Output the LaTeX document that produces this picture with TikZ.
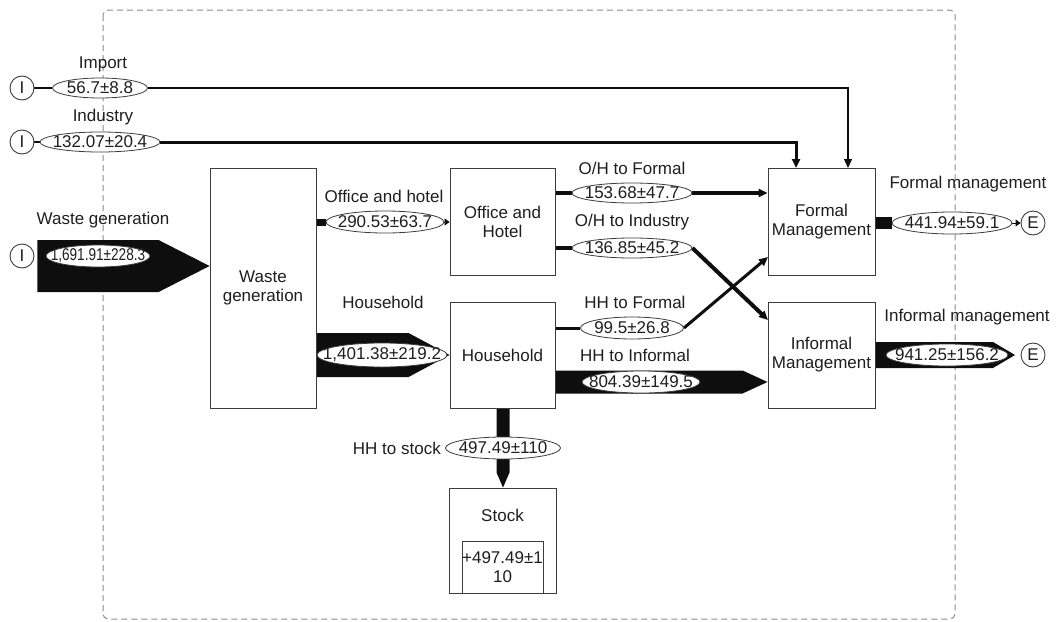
\documentclass[tikz,border=0pt]{standalone}
\usepackage{fontspec}
\setmainfont{Liberation Sans}
\usetikzlibrary{arrows.meta,shapes.geometric,calc,backgrounds}
\definecolor{ink}{HTML}{1E1E1E}
\definecolor{rule}{HTML}{3C3C3C}
\definecolor{frameclr}{HTML}{8A8A8A}
\definecolor{flowink}{HTML}{0E0E0E}
% value text that never widens its ellipse
\newcommand\numtxt[1]{\makebox[0pt]{#1}}
% fat flow to the right: start, tip, half thickness, head length
\newcommand\rflow[4]{\fill[flowink] ($#1+(0,-#3)$) -- ($#2+(-#4,-#3)$) -- #2 -- ($#2+(-#4,#3)$) -- ($#1+(0,#3)$) -- cycle;}
% fat flow downwards: start, tip, half thickness, head length
\newcommand\dflow[4]{\fill[flowink] ($#1+(-#3,0)$) -- ($#2+(-#3,-#4)$) -- #2 -- ($#2+(#3,-#4)$) -- ($#1+(#3,0)$) -- cycle;}
\begin{document}
\begin{tikzpicture}[x=1pt,y=-1pt,
  font=\fontsize{17}{19}\selectfont, text=ink,
  procbox/.style={draw=rule, line width=0.9pt, fill=white, inner sep=0pt, align=center},
  val/.style={ellipse, draw=rule, line width=0.8pt, fill=white, inner sep=0pt, minimum height=22pt},
  endpt/.style={circle, draw=rule, line width=0.9pt, fill=white, minimum size=24pt, inner sep=0pt},
  lab/.style={inner sep=0pt},
  link/.style={draw=flowink, line width=#1},
  headed/.style={-{Triangle[length=9pt,width=8pt]}},
  smallhead/.style={-{Triangle[length=5pt,width=7pt]}},
]
\useasboundingbox (0,0) rectangle (1057,621);

% sources and sinks
\node[endpt] (iImp) at (22,88) {I};
\node[endpt] (iInd) at (22,142) {I};
\node[endpt] (iWg) at (22,256) {I};
\node[endpt] (eFor) at (1033,223) {E};
\node[endpt] (eInf) at (1033,355) {E};

% processes
\node[procbox, minimum width=106pt, minimum height=240pt] (wg) at (263,288) {Waste\\generation};
\node[procbox, minimum width=105pt, minimum height=107pt] (oh) at (502.5,221.5) {Office and\\Hotel};
\node[procbox, minimum width=105pt, minimum height=106pt] (hh) at (502.5,355) {Household};
\node[procbox, minimum width=107pt, minimum height=107pt] (fm) at (821.5,221.5) {Formal\\Management};
\node[procbox, minimum width=107pt, minimum height=106pt] (im) at (821.5,355) {Informal\\Management};
\node[procbox, minimum width=107pt, minimum height=105pt] (st) at (502.5,540.5) {};
\node[lab] (stT) at (502.5,515) {Stock};
\node[procbox, minimum width=81pt, minimum height=52pt] (stIn) at (502.5,567) {+497.49±1\\10};

% flow values
\node[val, minimum width=95pt, minimum height=20pt] (vImp) at (100,88) {\numtxt{56.7±8.8}};
\node[val, minimum width=120pt, minimum height=20pt] (vInd) at (100,142) {\numtxt{132.07±20.4}};
\node[val, minimum width=104pt] (vWg) at (98,256) {\numtxt{\scalebox{0.8}[1]{1,691.91±228.3}}};
\node[val, minimum width=118pt] (vOH) at (385,222) {\numtxt{290.53±63.7}};
\node[val, minimum width=130pt, minimum height=24pt] (vHH) at (382,355) {\numtxt{1,401.38±219.2}};
\node[val, minimum width=120pt, minimum height=20pt] (vOF) at (632,193) {\numtxt{153.68±47.7}};
\node[val, minimum width=120pt, minimum height=20pt] (vOI) at (632,248) {\numtxt{136.85±45.2}};
\node[val, minimum width=103pt] (vHF) at (632,328) {\numtxt{99.5±26.8}};
\node[val, minimum width=118pt] (vHI) at (641,382) {\numtxt{804.39±149.5}};
\node[val, minimum width=115pt] (vHS) at (503,448) {\numtxt{497.49±110}};
\node[val, minimum width=120pt] (vFM) at (952,223) {\numtxt{441.94±59.1}};
\node[val, minimum width=122pt] (vIM) at (947,355) {\numtxt{941.25±156.2}};

% flow names
\node[lab] (lImp) at (103,64) {Import};
\node[lab] (lInd) at (103,117) {Industry};
\node[lab] (lWg) at (103,220) {Waste generation};
\node[lab] (lOH) at (384,196) {Office and hotel};
\node[lab] (lHH) at (383,302) {Household};
\node[lab] (lOF) at (632,168) {O/H to Formal};
\node[lab] (lOI) at (632,222) {O/H to Industry};
\node[lab] (lHF) at (635,302) {HH to Formal};
\node[lab] (lHI) at (635,355) {HH to Informal};
\node[lab, anchor=east] (lHS) at (441,448) {HH to stock};
\node[lab] (lFM) at (968,184) {Formal management};
\node[lab] (lIM) at (967,317) {Informal management};

% entry points on the management boxes
\coordinate (fmA) at (848,168);
\coordinate (fmB) at (796,168);
\coordinate (fmIn) at (768,257);
\coordinate (imIn) at (768,320);

\begin{pgfonlayer}{background}
  % system boundary
  \draw[frameclr, line width=1pt, dash pattern=on 6pt off 4pt, rounded corners=5pt] (103,10) rectangle (955,619);

  % imports straight to formal management
  \draw[link=1.2pt] (iImp) -- (vImp);
  \draw[link=1.2pt, headed] (vImp.east) -| (fmA);
  \draw[link=2pt] (iInd) -- (vInd);
  \draw[link=3pt, headed] (vInd.east) -| (fmB);

  % generation
  \coordinate (sWg) at ($(iWg.east)+(3,10)$);
  \coordinate (tWg) at ($(wg.west |- iWg)+(0,10)$);
  \rflow{(sWg)}{(tWg)}{26}{51}

  % office and hotel branch
  \draw[link=7pt] (wg.east |- vOH) -- (vOH);
  \draw[link=1pt, smallhead] (vOH.east) -- (oh.west |- vOH);

  % household branch
  \coordinate (sHH) at (wg.east |- vHH);
  \coordinate (tHH) at (hh.west |- vHH);
  \rflow{(sHH)}{(tHH)}{22}{41}

  % office and hotel outputs
  \draw[link=4pt] (oh.east |- vOF) -- (vOF);
  \draw[link=4pt, headed] (vOF.east) -- (fm.west |- vOF);
  \draw[link=4pt] (oh.east |- vOI) -- (vOI);
  \draw[link=4pt, headed] (vOI.east) -- (imIn);

  % household outputs
  \draw[link=3pt] (hh.east |- vHF) -- (vHF);
  \draw[link=3pt, headed] (vHF.east) -- (fmIn);
  \coordinate (sHI) at (hh.east |- vHI);
  \coordinate (tHI) at (im.west |- vHI);
  \rflow{(sHI)}{(tHI)}{11.5}{25}

  % household to stock
  \coordinate (sHS) at (hh.south -| vHS);
  \coordinate (tHS) at (st.north -| vHS);
  \dflow{(sHS)}{(tHS)}{6.5}{15}

  % management outputs
  \draw[link=12pt] (fm.east |- vFM) -- (vFM);
  \draw[link=1pt, smallhead] (vFM.east) -- (eFor);
  \coordinate (sIM) at (im.east |- vIM);
  \coordinate (tIM) at (1015,355);
  \rflow{(sIM)}{(tIM)}{13}{22}
\end{pgfonlayer}
\end{tikzpicture}
\end{document}
